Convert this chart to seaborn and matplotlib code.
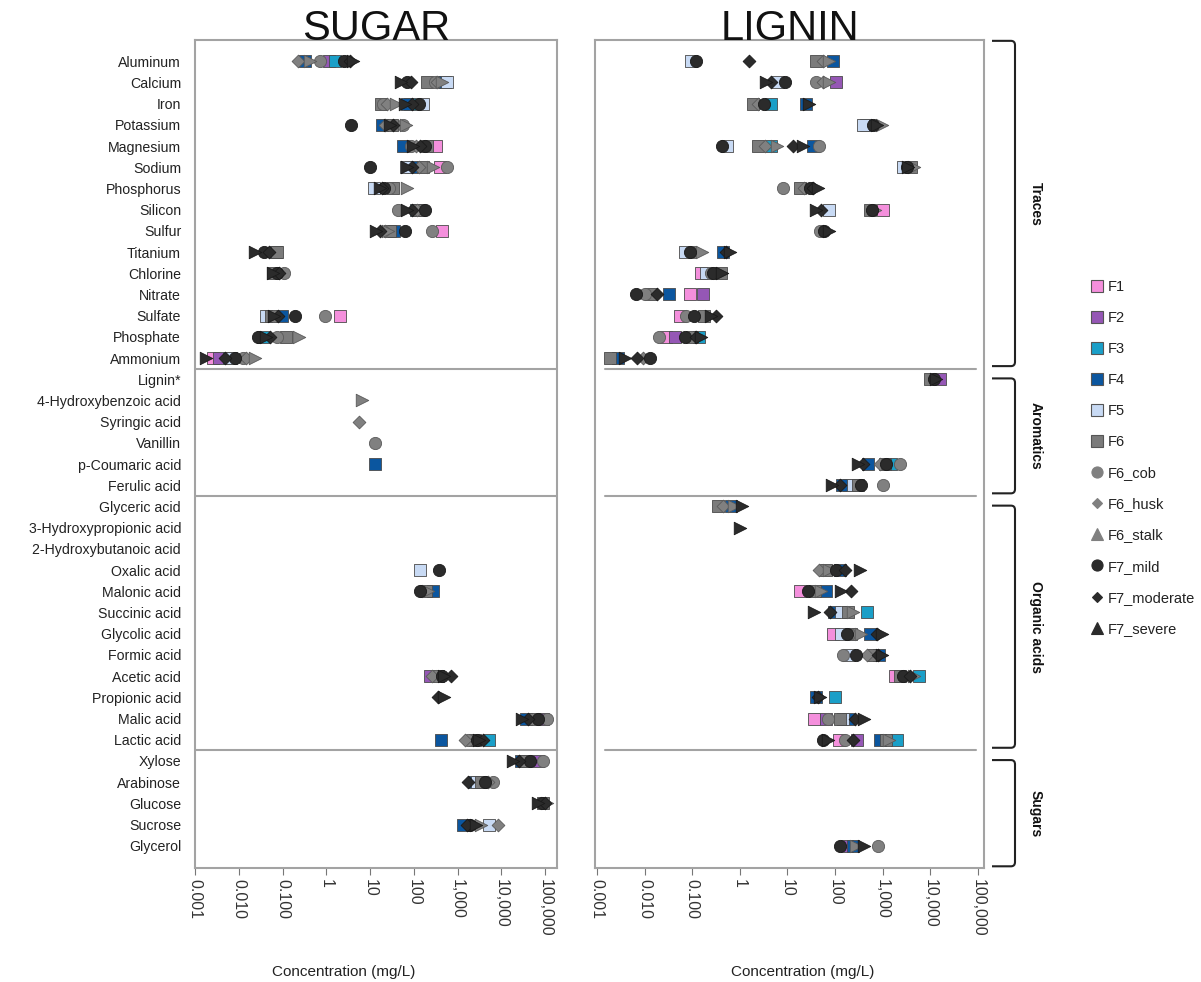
import numpy as np
import pandas as pd
import matplotlib
matplotlib.use("Agg")
import matplotlib.pyplot as plt
from matplotlib.lines import Line2D
from matplotlib.path import Path
from matplotlib.patches import PathPatch
from matplotlib.transforms import blended_transform_factory
from matplotlib.ticker import LogLocator, NullFormatter
import seaborn as sns

sns.set_theme(style="white")
plt.rcParams["font.family"] = ["Liberation Sans", "DejaVu Sans"]

# ---------------------------------------------------------------- categories
compounds = [
    "Aluminum", "Calcium", "Iron", "Potassium", "Magnesium", "Sodium",
    "Phosphorus", "Silicon", "Sulfur", "Titanium", "Chlorine", "Nitrate",
    "Sulfate", "Phosphate", "Ammonium",
    "Lignin*", "4-Hydroxybenzoic acid", "Syringic acid", "Vanillin",
    "p-Coumaric acid", "Ferulic acid",
    "Glyceric acid", "3-Hydroxypropionic acid", "2-Hydroxybutanoic acid",
    "Oxalic acid", "Malonic acid", "Succinic acid", "Glycolic acid",
    "Formic acid", "Acetic acid", "Propionic acid", "Malic acid", "Lactic acid",
    "Xylose", "Arabinose", "Glucose", "Sucrose", "Glycerol",
]
group_names = ["Traces", "Aromatics", "Organic acids", "Sugars"]
group_first = ["Aluminum", "Lignin*", "Glyceric acid", "Xylose"]
group_last = ["Ammonium", "Ferulic acid", "Lactic acid", "Glycerol"]

series = ["F1", "F2", "F3", "F4", "F5", "F6", "F6_cob", "F6_husk", "F6_stalk",
          "F7_mild", "F7_moderate", "F7_severe"]

tick_values = [1e-3, 1e-2, 1e-1, 1, 10, 100, 1e3, 1e4, 1e5]
tick_labels = ["0.001", "0.010", "0.100", "1", "10", "100", "1,000", "10,000", "100,000"]

# ------------------------------------------------- SUGAR stream (mg/L)
sugar_F1 = {"Magnesium": 320, "Sodium": 400, "Sulfur": 450, "Sulfate": 2.1,
            "Ammonium": 0.0026}
sugar_F2 = {"Aluminum": 1.15, "Ammonium": 0.0036, "Acetic acid": 230,
            "Malic acid": 90000, "Xylose": 68000}
sugar_F3 = {"Aluminum": 1.6, "Calcium": 520, "Iron": 81, "Silicon": 110,
            "Phosphate": 0.035, "Ammonium": 0.006, "Lactic acid": 5300}
sugar_F4 = {"Aluminum": 0.32, "Calcium": 480, "Iron": 70, "Potassium": 19,
            "Magnesium": 57, "Sodium": 85, "Sulfur": 35, "Titanium": 0.07,
            "Sulfate": 0.095, "p-Coumaric acid": 13, "Malonic acid": 280,
            "Malic acid": 37000, "Lactic acid": 420, "Xylose": 28000,
            "Arabinose": 2400, "Sucrose": 1300}
sugar_F5 = {"Calcium": 560, "Iron": 163, "Sodium": 65, "Phosphorus": 12,
            "Sulfate": 0.042, "Ammonium": 0.0065, "Oxalic acid": 140,
            "Arabinose": 2800, "Sucrose": 5300}
sugar_F6 = {"Calcium": 200, "Iron": 18, "Potassium": 32, "Magnesium": 200,
            "Sodium": 160, "Phosphorus": 33, "Silicon": 130, "Sulfur": 28,
            "Titanium": 0.075, "Chlorine": 0.06, "Sulfate": 0.055,
            "Phosphate": 0.12, "Malonic acid": 190, "Acetic acid": 350,
            "Malic acid": 55000, "Lactic acid": 2500, "Xylose": 35000,
            "Arabinose": 3500, "Glucose": 90000}
sugar_F6_cob = {"Aluminum": 0.7, "Calcium": 300, "Iron": 20, "Potassium": 57,
                "Magnesium": 85, "Sodium": 570, "Phosphorus": 27, "Silicon": 44,
                "Sulfur": 260, "Chlorine": 0.11, "Sulfate": 0.95,
                "Phosphate": 0.075, "Ammonium": 0.0125, "Vanillin": 13,
                "Acetic acid": 320, "Malic acid": 110000, "Lactic acid": 1700,
                "Xylose": 88000, "Arabinose": 6300}
sugar_F6_husk = {"Aluminum": 0.23, "Calcium": 330, "Iron": 24, "Potassium": 22,
                 "Magnesium": 110, "Sodium": 130, "Silicon": 120, "Sulfur": 22,
                 "Ammonium": 0.015, "Syringic acid": 5.5, "Acetic acid": 260,
                 "Lactic acid": 1500, "Arabinose": 5000, "Sucrose": 8200}
sugar_F6_stalk = {"Aluminum": 0.42, "Calcium": 450, "Iron": 40, "Potassium": 65,
                  "Sodium": 270, "Phosphorus": 70, "Sulfur": 25,
                  "Phosphate": 0.24, "Ammonium": 0.023,
                  "4-Hydroxybenzoic acid": 6.5, "Malonic acid": 210,
                  "Glucose": 110000, "Sucrose": 3400}
sugar_F7_mild = {"Aluminum": 2.6, "Calcium": 68, "Iron": 132, "Potassium": 3.6,
                 "Magnesium": 175, "Sodium": 10, "Phosphorus": 21,
                 "Silicon": 175, "Sulfur": 62, "Titanium": 0.037,
                 "Chlorine": 0.075, "Sulfate": 0.19, "Phosphate": 0.028,
                 "Ammonium": 0.008, "Oxalic acid": 380, "Malonic acid": 140,
                 "Acetic acid": 430, "Malic acid": 68000, "Lactic acid": 2700,
                 "Xylose": 45000, "Arabinose": 4200, "Glucose": 85000,
                 "Sucrose": 1900}
sugar_F7_moderate = {"Aluminum": 3.4, "Calcium": 88, "Iron": 93, "Potassium": 34,
                     "Magnesium": 135, "Sodium": 90, "Phosphorus": 19,
                     "Silicon": 90, "Sulfur": 17, "Titanium": 0.05,
                     "Chlorine": 0.085, "Sulfate": 0.08, "Phosphate": 0.052,
                     "Ammonium": 0.0048, "Acetic acid": 700,
                     "Propionic acid": 350, "Malic acid": 40000,
                     "Lactic acid": 3800, "Xylose": 25000, "Arabinose": 1700,
                     "Glucose": 100000, "Sucrose": 1600}
sugar_F7_severe = {"Aluminum": 4.0, "Calcium": 52, "Iron": 62, "Potassium": 28,
                   "Magnesium": 95, "Sodium": 70, "Phosphorus": 17,
                   "Silicon": 70, "Sulfur": 13.5, "Titanium": 0.023,
                   "Chlorine": 0.06, "Sulfate": 0.065, "Phosphate": 0.042,
                   "Ammonium": 0.0018, "Acetic acid": 500,
                   "Propionic acid": 480, "Malic acid": 29000,
                   "Lactic acid": 3000, "Xylose": 18000, "Glucose": 70000,
                   "Sucrose": 2600}

# ------------------------------------------------ LIGNIN stream (mg/L)
lignin_F1 = {"Silicon": 1000, "Chlorine": 0.155, "Nitrate": 0.09,
             "Sulfate": 0.055, "Phosphate": 0.028, "Ferulic acid": 195,
             "Malonic acid": 18, "Glycolic acid": 90, "Acetic acid": 1800,
             "Malic acid": 36, "Lactic acid": 120}
lignin_F2 = {"Calcium": 105, "Nitrate": 0.17, "Phosphate": 0.043,
             "Lignin*": 16000, "Malic acid": 65, "Lactic acid": 290,
             "Glycerol": 175}
lignin_F3 = {"Iron": 4.6, "Magnesium": 4.6, "Phosphate": 0.14,
             "p-Coumaric acid": 1500, "Succinic acid": 470, "Acetic acid": 5800,
             "Propionic acid": 100, "Lactic acid": 2000}
lignin_F4 = {"Aluminum": 90, "Iron": 25, "Potassium": 450, "Magnesium": 34,
             "Titanium": 0.45, "Nitrate": 0.032, "Ammonium": 0.0028,
             "p-Coumaric acid": 500, "Ferulic acid": 140, "Glyceric acid": 0.65,
             "Oxalic acid": 125, "Malonic acid": 65, "Succinic acid": 95,
             "Glycolic acid": 540, "Formic acid": 850, "Propionic acid": 40,
             "Malic acid": 185, "Lactic acid": 900, "Glycerol": 240}
lignin_F5 = {"Aluminum": 0.095, "Calcium": 6.5, "Potassium": 390,
             "Magnesium": 0.55, "Sodium": 2700, "Silicon": 75,
             "Titanium": 0.07, "Chlorine": 0.2, "Ferulic acid": 240,
             "Succinic acid": 135, "Glycolic acid": 135, "Formic acid": 200,
             "Malic acid": 150}
lignin_F6 = {"Aluminum": 40, "Iron": 1.9, "Magnesium": 2.4, "Sodium": 4000,
             "Phosphorus": 18, "Silicon": 540, "Chlorine": 0.4,
             "Nitrate": 0.014, "Sulfate": 0.18, "Phosphate": 0.1,
             "Ammonium": 0.0019, "Lignin*": 10000, "p-Coumaric acid": 1100,
             "Ferulic acid": 300, "Glyceric acid": 0.35, "Oxalic acid": 65,
             "Malonic acid": 38, "Succinic acid": 185, "Glycolic acid": 220,
             "Formic acid": 640, "Acetic acid": 2300, "Malic acid": 130,
             "Lactic acid": 1200}
lignin_F6_cob = {"Calcium": 40, "Magnesium": 46, "Phosphorus": 8.2,
                 "Sulfur": 48, "Titanium": 0.11, "Chlorine": 0.25,
                 "Nitrate": 0.01, "Sulfate": 0.075, "Phosphate": 0.02,
                 "p-Coumaric acid": 2300, "Ferulic acid": 1000,
                 "Glycolic acid": 200, "Formic acid": 150, "Malic acid": 70,
                 "Lactic acid": 160, "Glycerol": 800}
lignin_F6_husk = {"Aluminum": 55, "Calcium": 55, "Iron": 2.4, "Magnesium": 3.4,
                  "Phosphorus": 22, "Ammonium": 0.0095,
                  "p-Coumaric acid": 880, "Glyceric acid": 0.45,
                  "Oxalic acid": 47, "Formic acid": 460}
lignin_F6_stalk = {"Aluminum": 75, "Calcium": 75, "Potassium": 950,
                   "Magnesium": 6, "Sodium": 4500, "Silicon": 690,
                   "Titanium": 0.16, "Glyceric acid": 0.75, "Oxalic acid": 75,
                   "Malonic acid": 52, "Succinic acid": 240,
                   "Glycolic acid": 360, "Acetic acid": 4600,
                   "Lactic acid": 1350, "Glycerol": 270}
lignin_F7_mild = {"Aluminum": 0.12, "Calcium": 9, "Iron": 3.2, "Potassium": 640,
                  "Magnesium": 0.42, "Sodium": 3200, "Phosphorus": 30,
                  "Silicon": 600, "Sulfur": 60, "Titanium": 0.09,
                  "Chlorine": 0.28, "Nitrate": 0.0065, "Sulfate": 0.11,
                  "Phosphate": 0.07, "Ammonium": 0.013, "Lignin*": 12000,
                  "p-Coumaric acid": 1200, "Ferulic acid": 360,
                  "Oxalic acid": 105, "Malonic acid": 27, "Glycolic acid": 175,
                  "Formic acid": 270, "Acetic acid": 2700, "Lactic acid": 57,
                  "Glycerol": 125}
lignin_F7_moderate = {"Aluminum": 1.6, "Calcium": 4.6, "Magnesium": 13,
                      "Phosphorus": 35, "Silicon": 52, "Titanium": 0.52,
                      "Nitrate": 0.018, "Sulfate": 0.32, "Phosphate": 0.12,
                      "Ammonium": 0.0068, "p-Coumaric acid": 390,
                      "Ferulic acid": 130, "Oxalic acid": 160,
                      "Malonic acid": 220, "Succinic acid": 80,
                      "Glycolic acid": 750, "Formic acid": 800,
                      "Acetic acid": 3700, "Propionic acid": 44,
                      "Malic acid": 260, "Lactic acid": 240}
lignin_F7_severe = {"Calcium": 3.5, "Iron": 28, "Potassium": 750,
                    "Magnesium": 21, "Sodium": 3500, "Phosphorus": 45,
                    "Silicon": 40, "Sulfur": 75, "Titanium": 0.62,
                    "Chlorine": 0.42, "Sulfate": 0.25, "Phosphate": 0.155,
                    "Ammonium": 0.0038, "Lignin*": 13500,
                    "p-Coumaric acid": 300, "Ferulic acid": 85,
                    "Glyceric acid": 1.1, "3-Hydroxypropionic acid": 1.0,
                    "Oxalic acid": 330, "Malonic acid": 135,
                    "Succinic acid": 36, "Glycolic acid": 950,
                    "Formic acid": 950, "Propionic acid": 48,
                    "Malic acid": 410, "Lactic acid": 70, "Glycerol": 400}

sugar_values = dict(zip(series, [
    sugar_F1, sugar_F2, sugar_F3, sugar_F4, sugar_F5, sugar_F6, sugar_F6_cob,
    sugar_F6_husk, sugar_F6_stalk, sugar_F7_mild, sugar_F7_moderate,
    sugar_F7_severe]))
lignin_values = dict(zip(series, [
    lignin_F1, lignin_F2, lignin_F3, lignin_F4, lignin_F5, lignin_F6,
    lignin_F6_cob, lignin_F6_husk, lignin_F6_stalk, lignin_F7_mild,
    lignin_F7_moderate, lignin_F7_severe]))

# ------------------------------------------------------------------ styling
DARK = "#2b2b2b"
GREY = "#808080"
face = {"F1": "#f48fdc", "F2": "#9557b5", "F3": "#1a9fc8", "F4": "#0b569f",
        "F5": "#c8daf4", "F6": "#7b7b7b", "F6_cob": GREY, "F6_husk": GREY,
        "F6_stalk": GREY, "F7_mild": DARK, "F7_moderate": DARK,
        "F7_severe": DARK}
plot_marker = {"F1": "s", "F2": "s", "F3": "s", "F4": "s", "F5": "s", "F6": "s",
               "F6_cob": "o", "F6_husk": "D", "F6_stalk": ">",
               "F7_mild": "o", "F7_moderate": "D", "F7_severe": ">"}
legend_marker = dict(plot_marker, F6_stalk="^", F7_severe="^")
marker_size = {"s": 8.8, "o": 8.8, "D": 6.5, ">": 9.0}
SPINE = "#a3a3a3"


def frame(values):
    rows = [(name, comp, val) for name in series
            for comp, val in values[name].items()]
    return pd.DataFrame(rows, columns=["series", "compound", "value"])


def draw_panel(ax, values, title, xlim, show_labels, line_span):
    df = frame(values)
    for k, name in enumerate(series):
        sub = df[df["series"] == name]
        m = plot_marker[name]
        edge = "#4a4a4a" if m == "s" else ("#1a1a1a" if face[name] == DARK else "#5a5a5a")
        sns.stripplot(data=sub, x="value", y="compound", order=compounds,
                      orient="h", jitter=False, log_scale=True,
                      color=face[name], marker=m, size=marker_size[m],
                      edgecolor=edge, linewidth=0.6, ax=ax, zorder=3 + k)
    ax.set_xlim(*xlim)
    ax.set_ylim(len(compounds) + 0.05, -1.0)
    ax.set_xlabel("")
    ax.set_ylabel("")
    ax.set_xticks(tick_values, tick_labels)
    ax.xaxis.set_minor_locator(LogLocator(base=10, subs=np.arange(2, 10)))
    ax.xaxis.set_minor_formatter(NullFormatter())
    ax.tick_params(axis="x", which="major", bottom=True, direction="out",
                   length=5, width=0.8, color="#777777", labelsize=11.5,
                   labelcolor="#333333", labelrotation=-90, pad=3)
    ax.tick_params(axis="x", which="minor", bottom=True, direction="out",
                   length=3, width=0.6, color="#999999")
    ax.tick_params(axis="y", length=0, pad=10, labelsize=10.2,
                   labelcolor="#222222", labelleft=show_labels)
    for lab in ax.get_xticklabels():
        lab.set_verticalalignment("top")
    for s in ax.spines.values():
        s.set_visible(True)
        s.set_color(SPINE)
        s.set_linewidth(1.5)
    # separators between compound groups
    for last in group_last[:-1]:
        ax.axhline(compounds.index(last) + 0.5, xmin=line_span[0],
                   xmax=line_span[1], color=SPINE, lw=1.5, zorder=2)
    ax.set_title(title, fontsize=30, y=1.0, pad=0, color="#111111")


W, H = 1201, 982
fig = plt.figure(figsize=(W / 100, H / 100), dpi=100)
ax_s = fig.add_axes([195 / W, 1 - 868 / H, 362 / W, 828 / H])
ax_l = fig.add_axes([595 / W, 1 - 868 / H, 389 / W, 828 / H])

draw_panel(ax_s, sugar_values, "SUGAR", (1e-3, 10 ** 5.27), True, (0, 1))
draw_panel(ax_l, lignin_values, "LIGNIN", (10 ** -3.04, 10 ** 5.13), False,
           (0.026, 0.98))

fig.text(344 / W, 1 - 972 / H, "Concentration (mg/L)", ha="center",
         va="center", fontsize=11, color="#222222")
fig.text(803 / W, 1 - 972 / H, "Concentration (mg/L)", ha="center",
         va="center", fontsize=11, color="#222222")

# ------------------------------------------- group brackets on the right
trans = blended_transform_factory(fig.transFigure, ax_l.transData)
x0, x1 = 992 / W, 1015 / W
xc = 1011 / W
for i, name in enumerate(group_names):
    top = compounds.index(group_first[i]) - (0.04 if i else 0.96)
    bot = compounds.index(group_last[i]) + (0.38 if i < 3 else 0.97)
    r = 0.2
    verts = [(x0, top), (xc, top), (x1, top), (x1, top + r),
             (x1, bot - r), (x1, bot), (xc, bot), (x0, bot)]
    codes = [Path.MOVETO, Path.LINETO, Path.CURVE3, Path.CURVE3,
             Path.LINETO, Path.CURVE3, Path.CURVE3, Path.LINETO]
    patch = PathPatch(Path(verts, codes), transform=trans, fill=False,
                      edgecolor="#222222", lw=1.5, clip_on=False)
    fig.add_artist(patch)
    fig.text(1036 / W, (top + bot) / 2, name, transform=trans, rotation=-90,
             ha="center", va="center", fontsize=10, fontweight="bold",
             color="#111111")

# ------------------------------------------------------------------ legend
handles = []
for name in series:
    m = legend_marker[name]
    is_square = m == "s"
    handles.append(Line2D([], [], linestyle="none", marker=m,
                          markerfacecolor=face[name],
                          markeredgecolor="#555555" if is_square else face[name],
                          markeredgewidth=0.8,
                          markersize={"s": 8, "o": 8, "D": 5, "^": 8}[m]))
fig.legend(handles, series, loc="upper left",
           bbox_to_anchor=(1090 / W, 1 - 280 / H), bbox_transform=fig.transFigure,
           frameon=False, fontsize=10.5, labelspacing=1.17, handlelength=0.9,
           handletextpad=0.3, borderpad=0, borderaxespad=0,
           labelcolor="#222222")

fig.savefig("out.png", dpi=100, facecolor="white")
